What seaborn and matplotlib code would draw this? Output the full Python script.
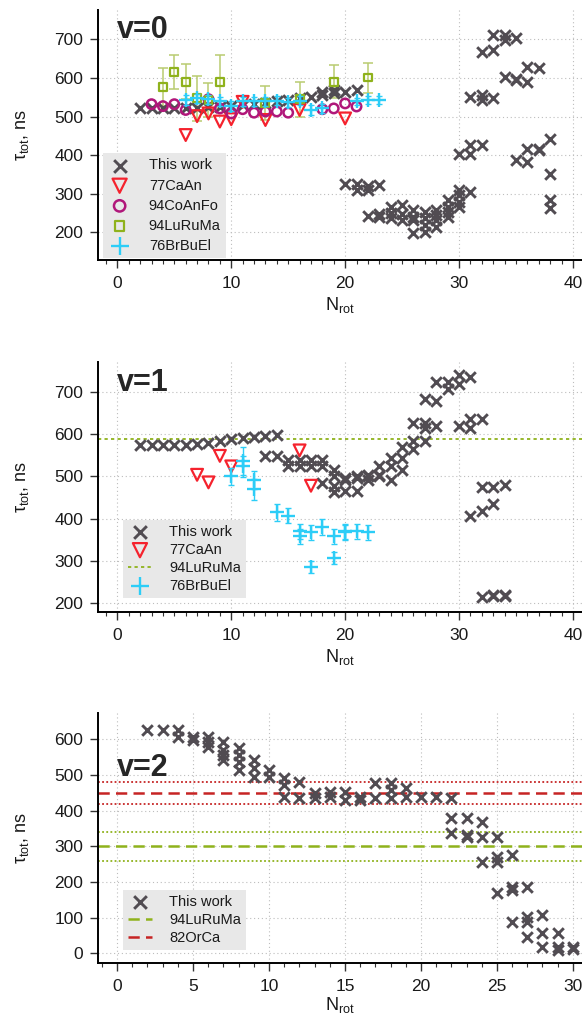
import matplotlib
matplotlib.use("Agg")
import matplotlib.pyplot as plt
from matplotlib.ticker import MultipleLocator
import seaborn as sns

# ---------------- v = 0 ----------------
v0_this_N = [2, 3, 4, 5, 6, 7, 8, 9, 10, 11, 12, 13, 14, 15, 16, 17, 18, 18, 19, 19, 20, 21,
             20, 21, 21, 22, 22, 23,
             22, 23, 23, 24, 24, 24, 25, 25, 25, 26, 26, 26, 26, 27, 27, 27, 27,
             28, 28, 28, 28, 29, 29, 29, 29, 30, 30, 30, 30, 31,
             30, 31, 31, 32,
             31, 32, 32, 33,
             32, 33, 33, 34, 34, 35,
             34, 35, 35, 36, 36, 37,
             35, 36, 36, 37, 37, 38, 38, 38, 38]
v0_this_tau = [522, 522, 522, 522, 521, 522, 524, 524, 526, 530, 532, 535, 539, 543, 547, 551, 556, 563, 560, 569, 564, 569,
               326, 326, 309, 320, 309, 322,
               242, 248, 240, 266, 250, 236, 270, 248, 231, 257, 240, 231, 197, 253, 236, 218, 201,
               257, 244, 231, 214, 283, 266, 253, 240, 309, 296, 279, 266, 305,
               404, 404, 426, 426,
               551, 556, 543, 547,
               668, 672, 711, 711, 698, 703,
               603, 594, 598, 590, 629, 625,
               387, 382, 417, 417, 413, 443, 351, 283, 264]

v0_caan_N = [6, 7, 8, 9, 10, 11, 13, 16, 20]
v0_caan_tau = [452, 501, 508, 487, 493, 538, 491, 517, 495]

v0_coanfo_N = [3, 4, 5, 6, 8, 9, 10, 11, 12, 13, 14, 15, 18, 19, 20, 21]
v0_coanfo_tau = [532, 527, 532, 517, 545, 521, 508, 519, 510, 513, 513, 510, 519, 521, 534, 526]

v0_luruma_N = [4, 5, 6, 7, 8, 9, 13, 16, 19, 22]
v0_luruma_tau = [576, 616, 590, 547, 543, 590, 535, 545, 590, 601]
v0_luruma_err = [49, 44, 45, 58, 45, 69, 44, 45, 43, 39]

v0_brbuel_N = [6, 7, 8, 9, 10, 11, 12, 13, 14, 15, 16, 17, 18, 21, 22, 23]
v0_brbuel_tau = [543, 547, 545, 539, 527, 539, 539, 539, 541, 537, 541, 517, 521, 539, 543, 543]
v0_brbuel_err = [12, 12, 12, 12, 12, 12, 12, 12, 12, 12, 12, 12, 12, 10, 10, 10]

# ---------------- v = 1 ----------------
v1_this_N = [2, 3, 4, 5, 6, 7, 8, 9, 10, 11, 12, 13, 14,
             13, 14, 15, 15, 16, 16, 17, 17, 18, 18, 18, 19, 19, 19, 19,
             20, 20, 20, 21, 21, 21, 22, 22, 22, 23, 23, 23, 24, 24, 24,
             25, 25, 25, 26, 26, 26, 27, 27, 27, 28, 27, 28, 28, 29, 29,
             30, 30, 31, 30, 31, 31, 32,
             32, 33, 34, 31, 32, 33,
             32, 33, 33, 34, 34]
v1_this_tau = [575, 575, 575, 576, 576, 577, 580, 584, 588, 591, 594, 596, 598,
               549, 549, 540, 524, 540, 524, 540, 524, 540, 524, 484, 516, 500, 477, 464,
               496, 492, 465, 500, 496, 465, 504, 500, 492, 524, 504, 500, 543, 524, 492,
               570, 543, 516, 585, 566, 628, 628, 616, 585, 620, 683, 680, 725, 725, 709,
               741, 721, 737, 620, 615, 636, 636,
               476, 476, 480, 405, 417, 435,
               213, 215, 219, 219, 215]

v1_caan_N = [7, 8, 9, 10, 16, 17]
v1_caan_tau = [504, 486, 549, 524, 562, 478]

v1_luruma_level = 590

v1_brbuel_N = [10, 11, 11, 12, 12, 14, 15, 16, 16, 17, 17, 18, 19, 19, 20, 20, 21, 22]
v1_brbuel_tau = [500, 536, 524, 492, 470, 415, 407, 370, 358, 367, 285, 380, 358, 306, 367, 370, 370, 367]
v1_brbuel_err = [20, 33, 25, 22, 25, 20, 18, 18, 18, 18, 15, 18, 18, 15, 18, 18, 18, 18]

# ---------------- v = 2 ----------------
v2_this_N = [2, 3, 4, 4, 5, 5, 6, 6, 6, 7, 7, 7, 7, 8, 8, 8, 8, 9, 9, 9, 10, 10,
             11, 11, 11, 12, 12, 13, 13, 14, 14, 15, 15, 16, 16, 17, 17, 18, 18, 18,
             19, 19, 20, 21, 22, 22, 22, 23, 23, 23, 24, 24, 24, 25, 25, 25, 25,
             26, 26, 26, 26, 27, 27, 27, 27, 28, 28, 28, 29, 29, 29, 30, 30]
v2_this_tau = [626, 626, 626, 607, 607, 598, 607, 593, 579, 593, 570, 556, 542, 575, 556, 537, 514, 542, 519, 495, 514, 495,
               491, 472, 439, 481, 435, 449, 435, 453, 439, 453, 430, 439, 430, 477, 435, 477, 458, 435,
               463, 439, 439, 439, 435, 381, 338, 379, 332, 327, 369, 327, 257, 327, 271, 257, 170,
               276, 187, 178, 89, 187, 103, 89, 45, 107, 56, 19, 56, 19, 9, 19, 11]

v2_luruma_level = [300, 260, 340]   # value, lower and upper bound
v2_orca_level = [450, 420, 480]

GREY = "#514c52"
RED = "#f5222d"
PURPLE = "#b0177a"
OLIVE = "#8fb21c"
OLIVE_ERR = "#b9cc70"
CYAN = "#2ccdf7"
DARKRED = "#c62424"

sns.set_theme(style="ticks")
plt.rcParams.update({
    "font.family": ["Liberation Sans", "DejaVu Sans"],
    "mathtext.fontset": "custom",
    "mathtext.rm": "Liberation Sans",
    "mathtext.it": "Liberation Sans:italic",
    "mathtext.default": "regular",
    "axes.edgecolor": "black",
    "xtick.color": "#333333",
    "ytick.color": "#333333",
    "xtick.labelcolor": "#1a1a1a",
    "ytick.labelcolor": "#1a1a1a",
})

fig = plt.figure(figsize=(5.82, 10.15), dpi=100)
ax0 = fig.add_axes([0.1684, 0.7438, 0.8316, 0.2463])
ax1 = fig.add_axes([0.1684, 0.3973, 0.8316, 0.2463])
ax2 = fig.add_axes([0.1684, 0.0509, 0.8316, 0.2466])


def style_axes(ax, xlim, ylim, xticks, yticks, xpad=3):
    ax.set_xlim(*xlim)
    ax.set_ylim(*ylim)
    ax.set_xticks(xticks)
    ax.set_yticks(yticks)
    ax.xaxis.set_minor_locator(MultipleLocator(1))
    ax.grid(True, which="major", ls=(0, (1, 2.5)), color="#bdbdbd", lw=0.8)
    ax.set_axisbelow(True)
    sns.despine(ax=ax)
    for s in ("left", "bottom"):
        ax.spines[s].set_linewidth(1.4)
        ax.spines[s].set_color("black")
    ax.tick_params(axis="both", which="major", length=5.5, width=1.0, labelsize=12.5)
    ax.tick_params(axis="x", which="major", pad=6)
    ax.tick_params(axis="y", which="major", pad=5)
    ax.tick_params(axis="x", which="minor", length=3, width=0.8)
    ax.set_xlabel("N$_{rot}$", fontsize=13, labelpad=xpad, color="#1a1a1a")
    ax.set_ylabel("τ$_{tot}$, ns", fontsize=13, labelpad=17, color="#1a1a1a")


def x_marks(ax, N, tau):
    sns.scatterplot(x=N, y=tau, marker="x", s=58, linewidth=2.1, color=GREY,
                    ax=ax, label="This work", zorder=3)


def tri_marks(ax, N, tau):
    sns.scatterplot(x=N, y=tau, marker="v", s=72, linewidth=1.6, color=RED,
                    facecolor="none", edgecolor=RED, ax=ax, label="77CaAn", zorder=4)


def add_legend(ax, order, anchor, spacing):
    handles, labels = ax.get_legend_handles_labels()
    lookup = dict(zip(labels, handles))
    leg = ax.legend([lookup[k] for k in order], order, loc="lower left",
                    bbox_to_anchor=anchor, borderaxespad=0, fontsize=10.5,
                    frameon=True, fancybox=False, framealpha=1,
                    facecolor="#e8e8e8", edgecolor="none",
                    borderpad=0.35, handlelength=1.6, handletextpad=1.2,
                    labelspacing=spacing, markerscale=1.2)
    leg.set_zorder(10)
    for t in leg.get_texts():
        t.set_color("#1a1a1a")


# ---- v = 0 panel ----
style_axes(ax0, (-1.7, 40.8), (128, 776), [0, 10, 20, 30, 40], [200, 300, 400, 500, 600, 700])
x_marks(ax0, v0_this_N, v0_this_tau)
tri_marks(ax0, v0_caan_N, v0_caan_tau)
sns.scatterplot(x=v0_coanfo_N, y=v0_coanfo_tau, marker="o", s=46, linewidth=1.8,
                color=PURPLE, facecolor="none", edgecolor=PURPLE, ax=ax0,
                label="94CoAnFo", zorder=4)
ax0.errorbar(v0_luruma_N, v0_luruma_tau, yerr=v0_luruma_err, fmt="none",
             ecolor=OLIVE_ERR, elinewidth=1.1, capsize=3.5, capthick=1.1, zorder=2)
sns.scatterplot(x=v0_luruma_N, y=v0_luruma_tau, marker="s", s=32, linewidth=1.6,
                color=OLIVE, facecolor="none", edgecolor=OLIVE, ax=ax0,
                label="94LuRuMa", zorder=4)
ax0.errorbar(v0_brbuel_N, v0_brbuel_tau, yerr=v0_brbuel_err, fmt="none",
             ecolor=CYAN, elinewidth=1.0, capsize=2.5, capthick=1.0, zorder=4)
sns.scatterplot(x=v0_brbuel_N, y=v0_brbuel_tau, marker="+", s=110, linewidth=1.7,
                color=CYAN, ax=ax0, label="76BrBuEl", zorder=5)
ax0.text(0.039, 0.888, "v=0", transform=ax0.transAxes, fontsize=22,
         fontweight="bold", va="baseline", ha="left")
add_legend(ax0, ["This work", "77CaAn", "94CoAnFo", "94LuRuMa", "76BrBuEl"],
           (0.01, 0.008), 0.42)

# ---- v = 1 panel ----
style_axes(ax1, (-1.7, 40.8), (178.6, 772.7), [0, 10, 20, 30, 40], [200, 300, 400, 500, 600, 700])
x_marks(ax1, v1_this_N, v1_this_tau)
tri_marks(ax1, v1_caan_N, v1_caan_tau)
ax1.axhline(v1_luruma_level, ls=(0, (1.8, 1.8)), lw=1.3, color=OLIVE,
            label="94LuRuMa", zorder=2)
ax1.errorbar(v1_brbuel_N, v1_brbuel_tau, yerr=v1_brbuel_err, fmt="none",
             ecolor=CYAN, elinewidth=1.0, capsize=2.5, capthick=1.0, zorder=4)
sns.scatterplot(x=v1_brbuel_N, y=v1_brbuel_tau, marker="+", s=110, linewidth=1.7,
                color=CYAN, ax=ax1, label="76BrBuEl", zorder=5)
ax1.text(0.039, 0.884, "v=1", transform=ax1.transAxes, fontsize=22,
         fontweight="bold", va="baseline", ha="left")
add_legend(ax1, ["This work", "77CaAn", "94LuRuMa", "76BrBuEl"], (0.052, 0.055), 0.27)

# ---- v = 2 panel ----
style_axes(ax2, (-1.25, 30.6), (-28, 674), [0, 5, 10, 15, 20, 25, 30],
           [0, 100, 200, 300, 400, 500, 600], xpad=0.5)
x_marks(ax2, v2_this_N, v2_this_tau)
ax2.axhline(v2_luruma_level[0], ls=(0, (4.5, 2.5)), lw=1.8, color=OLIVE,
            label="94LuRuMa", zorder=2)
for lvl in v2_luruma_level[1:]:
    ax2.axhline(lvl, ls=(0, (1, 1.3)), lw=1.3, color=OLIVE, zorder=2)
ax2.axhline(v2_orca_level[0], ls=(0, (4.5, 2.5)), lw=1.8, color=DARKRED,
            label="82OrCa", zorder=2)
for lvl in v2_orca_level[1:]:
    ax2.axhline(lvl, ls=(0, (1, 1.3)), lw=1.3, color=DARKRED, zorder=2)
ax2.text(0.039, 0.749, "v=2", transform=ax2.transAxes, fontsize=22,
         fontweight="bold", va="baseline", ha="left")
add_legend(ax2, ["This work", "94LuRuMa", "82OrCa"], (0.052, 0.053), 0.27)

fig.savefig("out.png", dpi=100)
